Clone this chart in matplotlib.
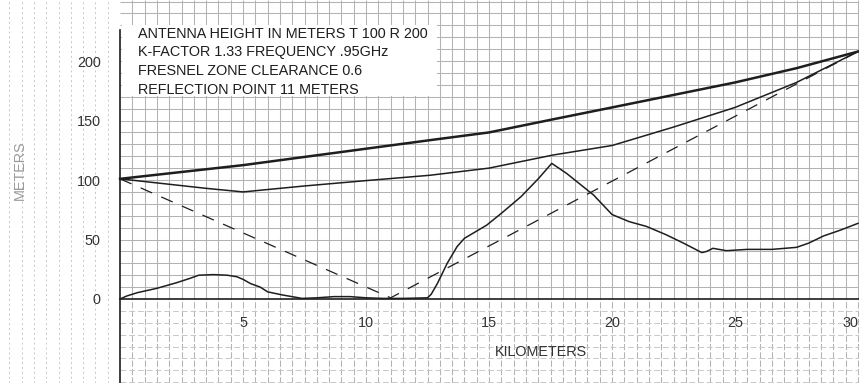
import numpy as np
import matplotlib.pyplot as plt
from matplotlib.patches import Rectangle

plt.rcParams['font.family'] = ['Liberation Sans', 'DejaVu Sans']

# ── data ──────────────────────────────────────────────────────
# line of sight (upper, heavy)
dist_los = [0, 5, 12.6, 15, 17.6, 20, 22.5, 25, 27.5, 30]
h_los = [101, 112.5, 133.5, 140, 151, 161, 171.5, 182, 194, 208]

# lower fresnel-zone clearance line
dist_fz = [0, 3.5, 5, 7.5, 10, 12.6, 15, 17.6, 20, 22.5, 25, 27.5, 30]
h_fz = [101, 93, 90, 95, 99.5, 104, 110, 121, 129, 144.5, 161, 182, 208]

# reflected path (dashed)
dist_refl = [0, 11.0, 30]
h_refl = [101, 1, 208]

# terrain profile
dist_ground = [0, 0.27, 0.7, 1.5, 2.3, 2.85, 3.2, 3.8, 4.35, 4.75, 5.0, 5.3,
               5.7, 6.0, 6.6, 7.4, 8.0, 8.7, 9.35, 10.0, 10.7, 11.5, 12.5,
               12.65, 12.9, 13.3, 13.7, 14.0, 14.9, 15.5, 16.3, 17.0, 17.55,
               18.15, 19.25, 20.0, 20.7, 21.4, 22.2, 22.9, 23.65, 23.85, 24.1,
               24.65, 25.5, 26.5, 27.5, 28.0, 28.6, 29.3, 30.0]
h_ground = [0, 2.5, 5.3, 9, 13.7, 17.4, 20, 20.5, 20, 18.7, 16.5, 13,
            10, 6, 3.4, 0.5, 1, 2, 2, 1, 0.5, 0.5, 1,
            4, 13, 30, 44, 51, 62, 72, 86, 101, 114,
            105.6, 87.4, 71, 65, 61, 54, 47, 39, 40, 42.6,
            40.6, 41.7, 41.7, 43.4, 47, 53, 58, 63.6]

x_ticks = [5, 10, 15, 20, 25, 30]
y_ticks = [0, 50, 100, 150, 200]
info = ["ANTENNA HEIGHT IN METERS T 100 R 200",
        "K-FACTOR 1.33 FREQUENCY .95GHz",
        "FRESNEL ZONE CLEARANCE 0.6",
        "REFLECTION POINT 11 METERS"]

INK = '#1e1e1e'
GRID = '#b3b3b3'

# ── figure ────────────────────────────────────────────────────
fig = plt.figure(figsize=(8.59, 3.83), dpi=100)
ax = fig.add_axes([0, 0, 1, 1])
x0, x1 = -4.88, 30.04
y0, y1 = -70.6, 251.3
ax.set_xlim(x0, x1)
ax.set_ylim(y0, y1)

# graph paper: solid inside the plot, broken below the axis and to the left
ax.vlines(np.arange(0.5, 30.1, 0.5), 0, y1, color=GRID, lw=0.75, zorder=0)
ax.vlines(np.arange(0.5, 30.1, 0.5), y0, 0, color=GRID, lw=0.75,
          linestyles=(0, (6, 2)), zorder=0)
ax.hlines(np.arange(10, 251, 10), 0, x1, color=GRID, lw=0.75, zorder=0)
ax.hlines(np.arange(-70, 0, 10), 0, x1, color='#c8c8c8', lw=0.7,
          linestyles=(0, (6, 3)), zorder=0)
ax.vlines(np.arange(-4.5, 0, 0.5), y0, y1, color='#c6c6c6', lw=0.7,
          linestyles=(0, (2, 3)), zorder=0)

# blank area behind the caption
ax.add_patch(Rectangle((0.08, 171), 12.8, 59, facecolor='white',
                       edgecolor='none', zorder=1))

# curves
ax.plot(dist_los, h_los, color=INK, lw=1.8, zorder=3)
ax.plot(dist_fz, h_fz, color=INK, lw=1.1, zorder=3)
ax.plot(dist_refl, h_refl, color=INK, lw=0.9, linestyle=(0, (10, 8)), zorder=3)
ax.plot(dist_ground, h_ground, color=INK, lw=1.1, zorder=3)

# axes drawn through the origin
for s in ['top', 'right']:
    ax.spines[s].set_visible(False)
ax.spines['left'].set_position(('data', 0))
ax.spines['bottom'].set_position(('data', 0))
ax.spines['left'].set_bounds(y0, 226)
ax.spines['bottom'].set_bounds(0, x1)
for s in ['left', 'bottom']:
    ax.spines[s].set_color(INK)
    ax.spines[s].set_linewidth(1.2)
    ax.spines[s].set_zorder(4)

ax.set_xticks(x_ticks)
ax.set_yticks(y_ticks)
ax.tick_params(axis='both', length=0, labelsize=10.4, labelcolor='#333333')
ax.tick_params(axis='x', pad=12)
ax.tick_params(axis='y', pad=14)
ax.get_xticklabels()[-1].set_ha('right')

ax.text(17.1, -44.5, "KILOMETERS", fontsize=10.4, color='#333333',
        ha='center', va='center', zorder=5)
ax.text(-4.07, 108, "METERS", fontsize=10.4, color='#9a9a9a', rotation=90,
        ha='center', va='center', zorder=5)
ax.text(0.73, 229, "\n".join(info), fontsize=10.4, color=INK,
        ha='left', va='top', linespacing=1.45, zorder=5)

fig.savefig("out.png", dpi=100)
